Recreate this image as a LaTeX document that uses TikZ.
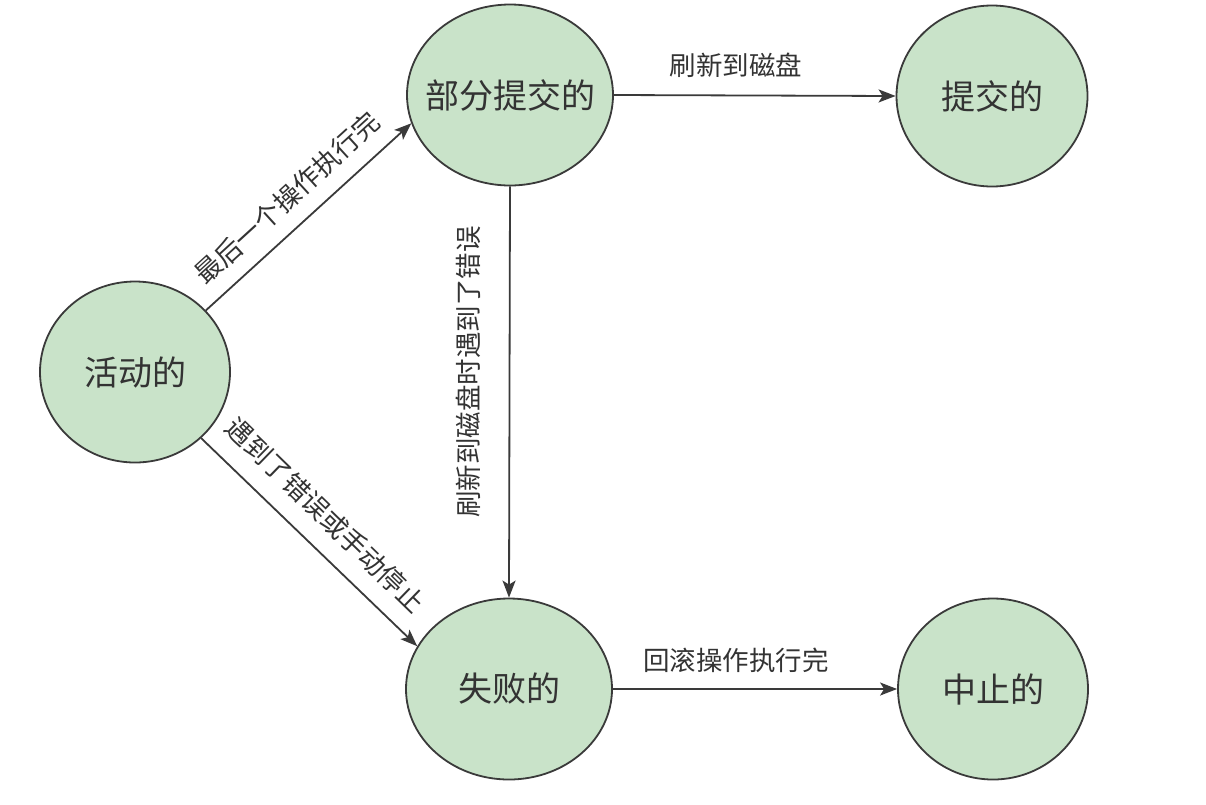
\documentclass[tikz,border=0pt]{standalone}
\usepackage{fontspec}
\setmainfont{Noto Sans CJK SC}
\usetikzlibrary{shapes.geometric,arrows.meta}
\definecolor{stategreen}{HTML}{C9E3C9}
\definecolor{strokegrey}{HTML}{3A3A3A}
\definecolor{textgrey}{HTML}{333333}
\newcommand{\stxt}[1]{\makebox[0pt][c]{#1}}
\tikzset{
  state/.style={ellipse, draw=strokegrey, fill=stategreen, line width=1.8pt,
    inner sep=0pt, minimum height=181pt, text=textgrey,
    font=\fontsize{34pt}{40pt}\selectfont},
  arr/.style={draw=strokegrey, line width=1.8pt,
    -{Stealth[length=17pt,width=13pt,inset=4pt]}},
  lbl/.style={text=textgrey, inner sep=0pt, font=\fontsize{26.5pt}{30pt}\selectfont}
}
\begin{document}
\begin{tikzpicture}[x=1pt,y=-1pt]
\useasboundingbox (0,0) rectangle (1206,804);
\fill[white] (0,0) rectangle (1206,804);
\node[state, minimum width=190pt] (act) at (135,372) {\stxt{活动的}};
\node[state, minimum width=206pt] (pc) at (510,95) {\stxt{部分提交的}};
\node[state, minimum width=191pt] (com) at (992,96) {\stxt{提交的}};
\node[state, minimum width=206pt] (fail) at (509,689) {\stxt{失败的}};
\node[state, minimum width=190pt] (abt) at (993,689) {\stxt{中止的}};

\draw[arr] (act.41) -- (pc.196);
\draw[arr] (act.315) -- (fail.155);
\draw[arr] (pc.south) -- (fail.north);
\draw[arr] (pc.east) -- (com.west);
\draw[arr] (fail.east) -- (abt.west);

\node[lbl, rotate=42.4] (l1) at (287,198) {最后一个操作执行完};
\node[lbl, rotate=-44.2] (l2) at (326,515) {遇到了错误或手动停止};
\node[lbl, rotate=90] (l3) at (468,372) {刷新到磁盘时遇到了错误};
\node[lbl] (l4) at (736,65) {刷新到磁盘};
\node[lbl] (l5) at (736,660) {回滚操作执行完};
\end{tikzpicture}
\end{document}
